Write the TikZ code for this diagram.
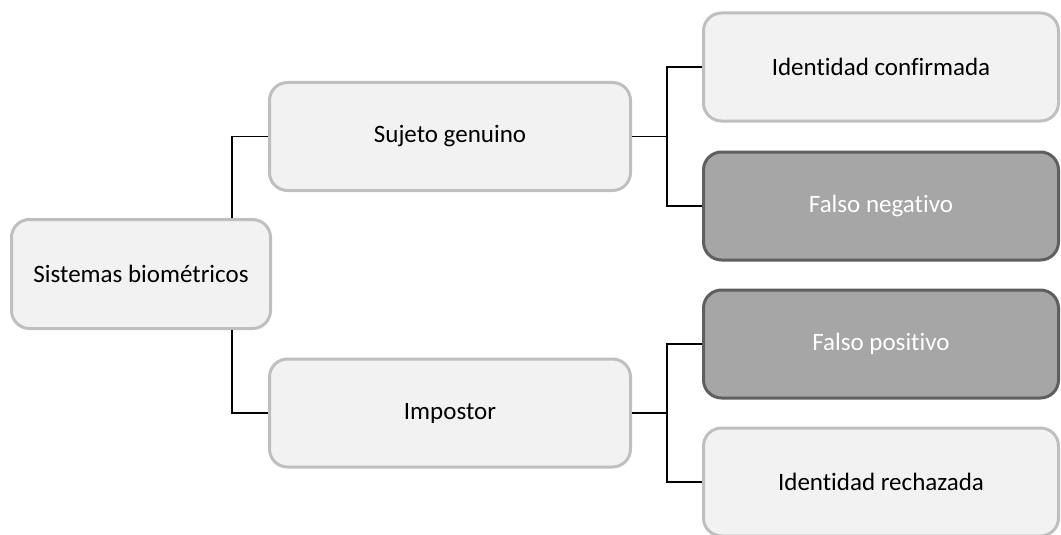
\documentclass[tikz,border=0pt]{standalone}
\usepackage{fontspec}
\setmainfont{Carlito}[Ligatures={NoCommon,NoContextual}]
\usepackage{xcolor}
\definecolor{boxfill}{HTML}{F2F2F2}
\definecolor{boxline}{HTML}{BFBFBF}
\definecolor{darkfill}{HTML}{A6A6A6}
\definecolor{darkline}{HTML}{5F5F5F}
\begin{document}
\begin{tikzpicture}[x=1pt,y=-1pt,
  lightbox/.style={draw=boxline,fill=boxfill,line width=3pt,rounded corners=18pt,
    inner sep=0pt,font=\fontsize{25}{30}\selectfont,text=black},
  darkbox/.style={lightbox,draw=darkline,fill=darkfill,text=white},
  link/.style={line width=1.5pt,black}]
  \useasboundingbox (0,0) rectangle (1061,535);
  \node[lightbox,minimum width=259pt,minimum height=109pt] (root) at (141,274) {Sistemas biométricos};
  \node[lightbox,minimum width=361pt,minimum height=108pt] (gen) at (450,136.5) {Sujeto genuino};
  \node[lightbox,minimum width=361pt,minimum height=108pt] (imp) at (450,413) {Impostor};
  \node[lightbox,minimum width=355pt,minimum height=108pt] (conf) at (881,67) {Identidad confirmada};
  \node[darkbox,minimum width=355pt,minimum height=108pt] (neg) at (881,206) {Falso negativo};
  \node[darkbox,minimum width=355pt,minimum height=108pt] (pos) at (881,344) {Falso positivo};
  \node[lightbox,minimum width=355pt,minimum height=108pt] (rech) at (881,482) {Identidad rechazada};
  \coordinate (bg) at (667,136.5);
  \coordinate (bi) at (667,413);
  \draw[link] ([xshift=-40pt]root.north east) |- (gen.west);
  \draw[link] ([xshift=-40pt]root.south east) |- (imp.west);
  \draw[link] (gen.east) -- (bg);
  \draw[link] (bg) |- (conf.west);
  \draw[link] (bg) |- (neg.west);
  \draw[link] (imp.east) -- (bi);
  \draw[link] (bi) |- (pos.west);
  \draw[link] (bi) |- (rech.west);
\end{tikzpicture}
\end{document}
